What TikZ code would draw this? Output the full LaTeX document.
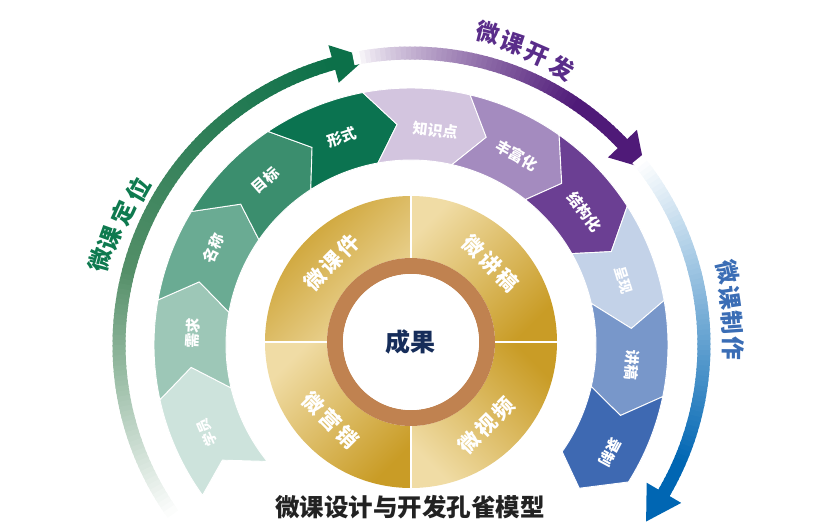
\documentclass[tikz,border=0pt]{standalone}
\usepackage{fontspec}
\setmainfont{Noto Sans CJK SC}
\definecolor{gdark}{RGB}{12,112,73}
\definecolor{gmid}{RGB}{84,143,104}
\definecolor{pdark}{RGB}{79,26,120}
\definecolor{bdark}{RGB}{0,102,179}
\definecolor{golddark}{RGB}{201,156,38}
\definecolor{goldlight}{RGB}{240,220,165}
\definecolor{brownring}{RGB}{192,130,80}
\definecolor{navy}{RGB}{22,45,90}
\definecolor{titlec}{RGB}{34,34,34}
\definecolor{lblgreen}{RGB}{14,122,79}
\definecolor{lblpurple}{RGB}{90,45,138}
\definecolor{lblblue}{RGB}{58,109,181}
\definecolor{sA}{RGB}{205,227,220}
\definecolor{sB}{RGB}{157,199,183}
\definecolor{sC}{RGB}{106,171,147}
\definecolor{sD}{RGB}{59,142,110}
\definecolor{sE}{RGB}{11,115,80}
\definecolor{sF}{RGB}{211,197,223}
\definecolor{sG}{RGB}{164,139,191}
\definecolor{sH}{RGB}{107,63,147}
\definecolor{sI}{RGB}{195,210,232}
\definecolor{sJ}{RGB}{120,151,202}
\definecolor{sK}{RGB}{62,105,178}
\newcommand\pkseg[7]{%
  \fill[#7, draw=white, line width=0.9pt] (#1:257pt) arc[start angle=#1, end angle=#4, radius=257pt]
    -- (#6:221pt) -- (#5:185pt) arc[start angle=#5, end angle=#2, radius=185pt]
    -- (#3:221pt) -- cycle;}
\begin{document}
\begin{tikzpicture}[x=1pt,y=1pt,
  seglbl/.style={text=white, font=\bfseries\fontsize{15}{15}\selectfont, inner sep=0pt},
  goldlbl/.style={text=white, font=\bfseries\fontsize{21}{21}\selectfont, inner sep=0pt},
  arclbl/.style={font=\bfseries\fontsize{23.5}{23.5}\selectfont, inner sep=0pt},
  quad/.style={top color=golddark, bottom color=goldlight}
]
\useasboundingbox (-411,-186) rectangle (428,345);

% ---------- outer gradient arrows ----------
\foreach \a in {105,...,214} {
  \pgfmathsetmacro\pa{min(100,max(0,(\a-105)/60*100))}
  \pgfmathsetmacro\pb{min(100,max(0,(\a-165)/50*100))}
  \colorlet{cA}{gmid!\pa!gdark}
  \colorlet{cB}{white!\pb!cA}
  \draw[line width=13pt, cB] (\a:292pt) arc[start angle=\a, end angle=\a+1.4, radius=292pt];
}
\fill[gdark] (105.4:311pt) -- (98.7:291pt) -- (105.4:272pt) -- cycle;

\foreach \a in {42,...,100} {
  \pgfmathsetmacro\tt{min(1,max(0.001,(100-\a)/45))}
  \pgfmathsetmacro\pp{100*pow(\tt,0.75)}
  \colorlet{cB}{pdark!\pp!white}
  \draw[line width=13pt, cB] (\a:292pt) arc[start angle=\a, end angle=\a+1.4, radius=292pt];
}
\fill[pdark] (43.6:312pt) -- (37.1:293pt) -- (43.6:272pt) -- cycle;

\foreach \a in {-31,...,38} {
  \pgfmathsetmacro\tt{min(1,max(0,(38-\a)/62))}
  \pgfmathsetmacro\pp{100*\tt}
  \colorlet{cB}{bdark!\pp!white}
  \draw[line width=13pt, cB] (\a:293pt) arc[start angle=\a, end angle=\a+1.4, radius=293pt];
}
\fill[bdark] (-30.3:273pt) -- (-36.9:294pt) -- (-30.3:313pt) -- cycle;

% ---------- arc labels ----------
\foreach \c/\x/\y/\r [count=\i] in {微/-311/85/74.7, 课/-301/107/70.4, 定/-288/132/65.4, 位/-273/155/60.4}
  \node[arclbl, text=lblgreen, rotate=\r] (lg\i) at (\x,\y) {\c};
\foreach \c/\x/\y/\r [count=\i] in {微/77/312/-13.9, 课/101/302/-18.5, 开/126/290/-23.5, 发/151/277/-28.6}
  \node[arclbl, text=lblpurple, rotate=\r] (lp\i) at (\x,\y) {\c};
\foreach \c/\x/\y/\r [count=\i] in {微/317/73/-77, 课/319/47/-81.6, 制/321/22/-86.1, 作/322/-3/-90.5}
  \node[arclbl, text=lblblue, rotate=\r] (lb\i) at (\x,\y) {\c};

% ---------- segmented band ----------
\pkseg{215.8}{219}{211.4}{192.3}{193.4}{185.8}{sA}
\pkseg{192.3}{193.4}{185.8}{169.9}{169.8}{163.4}{sB}
\pkseg{169.9}{169.8}{163.4}{148.7}{145.3}{140.4}{sC}
\pkseg{148.7}{145.3}{140.4}{123.8}{122.8}{116.6}{sD}
\pkseg{123.8}{122.8}{116.6}{100.8}{100.3}{93.6}{sE}
\pkseg{100.8}{100.3}{93.6}{76.7}{77.2}{70.1}{sF}
\pkseg{76.7}{77.2}{70.1}{54.8}{51.8}{47}{sG}
\pkseg{54.8}{51.8}{47}{32.7}{29.6}{25}{sH}
\pkseg{32.7}{29.6}{25}{10}{13}{4.3}{sI}
\pkseg{10}{13}{4.3}{-11.6}{-13}{-18.6}{sJ}
\pkseg{-11.6}{-13}{-18.6}{-32.2}{-35.2}{-40.4}{sK}

\node[seglbl, font=\bfseries\fontsize{14}{14}\selectfont, rotate=113.3] (t1) at (203.3:222pt) {学员};
\node[seglbl, rotate=86.9] (t2) at (176.9:219pt) {需求};
\node[seglbl, rotate=63.9] (t3) at (153.9:220pt) {名称};
\node[seglbl, rotate=41.5] (t4) at (131.5:220pt) {目标};
\node[seglbl, rotate=18.4] (t5) at (108.4:219pt) {形式};
\node[seglbl, rotate=-6.6] (t6) at (83.4:216pt) {知识点};
\node[seglbl, rotate=-29.2] (t7) at (60.8:217pt) {丰富化};
\node[seglbl, rotate=-52.6] (t8) at (37.4:219pt) {结构化};
\node[seglbl, font=\bfseries\fontsize{14}{14}\selectfont, rotate=-73] (t9) at (17:222pt) {呈现};
\node[seglbl, rotate=-95.2] (t10) at (-5.2:222pt) {讲稿};
\node[seglbl, rotate=-118.3] (t11) at (-28.3:226pt) {录制};

% ---------- gold ring ----------
\begin{scope}[shift={(0,3)}]
  \shade[quad, shading angle=45] (90:146pt) arc[start angle=90, end angle=180, radius=146pt]
    -- (180:84pt) arc[start angle=180, end angle=90, radius=84pt] -- cycle;
  \shade[quad, shading angle=225] (0:146pt) arc[start angle=0, end angle=90, radius=146pt]
    -- (90:84pt) arc[start angle=90, end angle=0, radius=84pt] -- cycle;
  \shade[quad, shading angle=-45] (270:146pt) arc[start angle=270, end angle=360, radius=146pt]
    -- (0:84pt) arc[start angle=360, end angle=270, radius=84pt] -- cycle;
  \shade[quad, shading angle=225] (180:146pt) arc[start angle=180, end angle=270, radius=146pt]
    -- (270:84pt) arc[start angle=270, end angle=180, radius=84pt] -- cycle;
  \draw[white, line width=1.8pt] (0:80pt) -- (0:147pt) (90:80pt) -- (90:147pt)
    (180:80pt) -- (180:147pt) (270:80pt) -- (270:147pt);
  \draw[brownring, line width=16pt] (0,0) circle[radius=76pt];
  \fill[white] (0,0) circle[radius=68pt];
  \foreach \c/\k [count=\i] in {微/-1, 课/0, 件/1}
    \node[goldlbl, rotate=45] (ga\i) at ([shift={(45:{\k*24pt})}]135:112pt) {\c};
  \foreach \c/\k [count=\i] in {微/-1, 讲/0, 稿/1}
    \node[goldlbl, rotate=-45] (gb\i) at ([shift={(-45:{\k*24pt})}]45:112pt) {\c};
  \foreach \c/\k [count=\i] in {微/-1, 营/0, 销/1}
    \node[goldlbl, rotate=-45] (gc\i) at ([shift={(-45:{\k*24pt})}]224:112pt) {\c};
  \foreach \c/\k [count=\i] in {微/-1, 视/0, 频/1}
    \node[goldlbl, rotate=45] (gd\i) at ([shift={(45:{\k*24pt})}]-48:112pt) {\c};
  \node[text=navy, font=\bfseries\fontsize{25}{25}\selectfont, inner sep=0pt] (center) at (0,0) {成果};
\end{scope}

% ---------- title ----------
\node[text=titlec, font=\bfseries\fontsize{24.5}{24.5}\selectfont, inner sep=0pt] (title) at (-1,-162) {微课设计与开发孔雀模型};
\end{tikzpicture}
\end{document}
